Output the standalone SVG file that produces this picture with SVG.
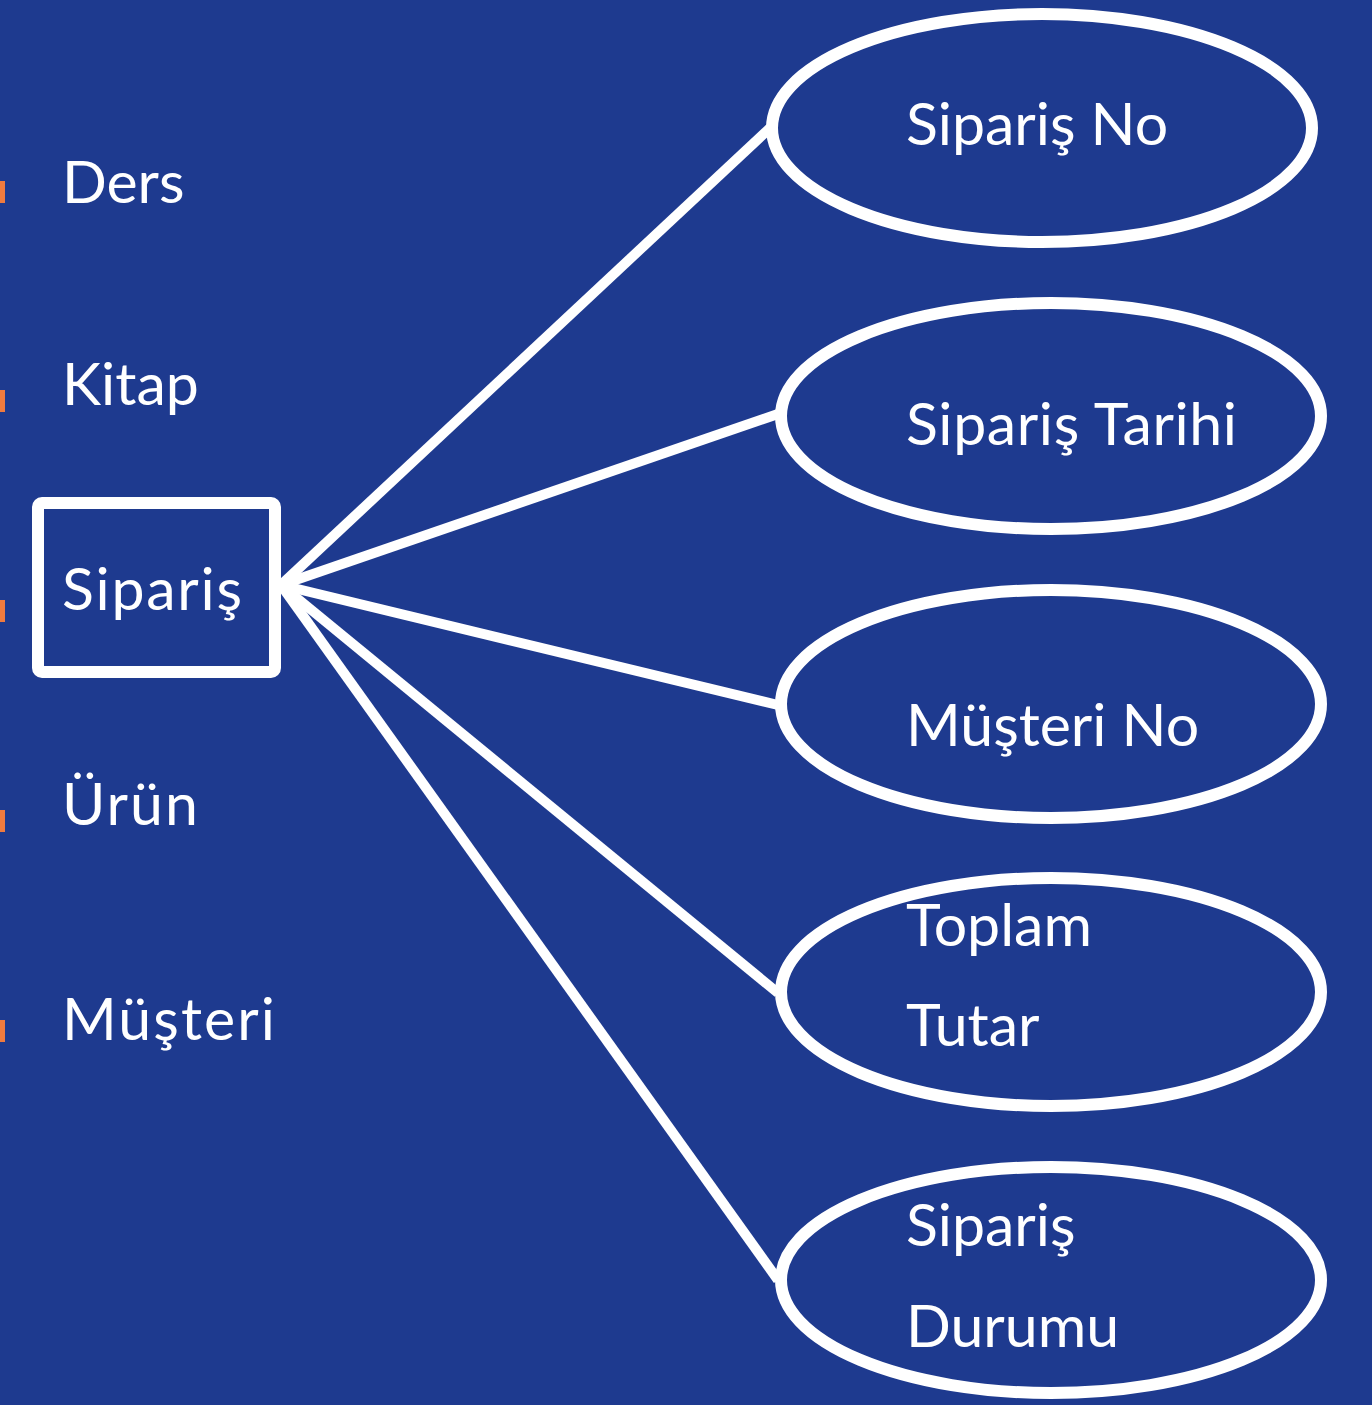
<svg xmlns="http://www.w3.org/2000/svg" width="1372" height="1405" viewBox="0 0 1372 1405">
<style>
text{font-family:Lato,"Noto Sans",sans-serif;fill:#fff;font-size:59px}
.e{fill:none;stroke:#fff;stroke-width:12}
.c line{stroke:#fff;stroke-width:10}
.b{fill:#F07B3F}
</style>
<rect width="1372" height="1405" fill="#1E3A8F"/>
<g id="list">
<rect class="b" x="0" y="181" width="5" height="22"/>
<text x="62" y="203">Ders</text>
<rect class="b" x="0" y="390" width="5" height="22"/>
<text x="62" y="405">Kitap</text>
<rect class="b" x="0" y="600" width="5" height="22"/>
<rect class="b" x="0" y="810" width="5" height="22"/>
<text x="62" y="825" textLength="136" lengthAdjust="spacing">Ürün</text>
<rect class="b" x="0" y="1020" width="5" height="22"/>
<text x="62" y="1040" textLength="213" lengthAdjust="spacing">Müşteri</text>
</g>
<g class="c" id="connectors">
<line x1="281" y1="585" x2="770" y2="128"/>
<line x1="281" y1="585" x2="778" y2="414"/>
<line x1="281" y1="585" x2="778" y2="705"/>
<line x1="281" y1="585" x2="778" y2="993"/>
<line x1="281" y1="585" x2="778" y2="1280"/>
</g>
<g id="siparis">
<rect x="38" y="503" width="237" height="169" rx="4" fill="none" stroke="#fff" stroke-width="12"/>
<text x="62" y="610" textLength="180" lengthAdjust="spacing">Sipariş</text>
</g>
<g id="a1"><ellipse class="e" cx="1042" cy="128" rx="270" ry="114"/><text x="906" y="145">Sipariş No</text></g>
<g id="a2"><ellipse class="e" cx="1051" cy="416" rx="270" ry="113"/><text x="906" y="445" textLength="331" lengthAdjust="spacing">Sipariş Tarihi</text></g>
<g id="a3"><ellipse class="e" cx="1051" cy="704" rx="270" ry="114"/><text x="906" y="746">Müşteri No</text></g>
<g id="a4"><ellipse class="e" cx="1051" cy="992" rx="270" ry="114"/><text x="906" y="946">Toplam</text><text x="906" y="1046">Tutar</text></g>
<g id="a5"><ellipse class="e" cx="1051" cy="1280" rx="270" ry="113"/><text x="906" y="1246">Sipariş</text><text x="906" y="1347">Durumu</text></g>
</svg>
